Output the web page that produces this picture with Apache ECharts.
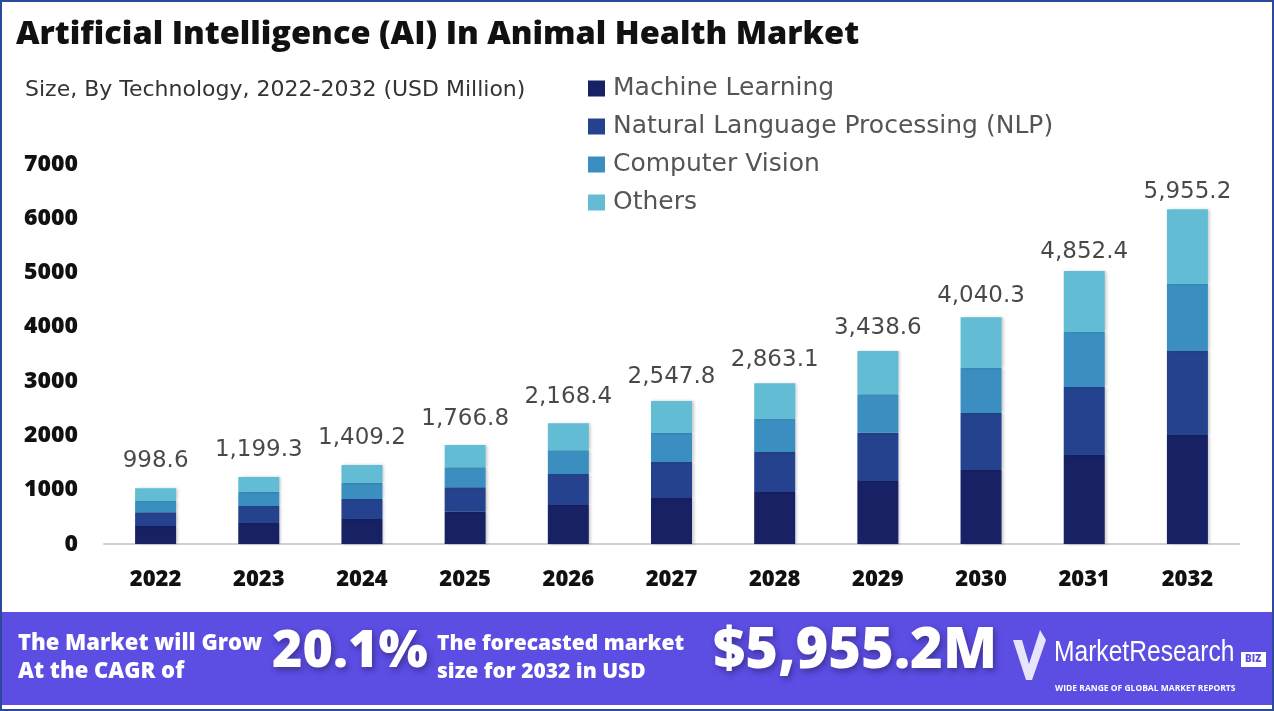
<!DOCTYPE html>
<html>
<head>
<meta charset="utf-8">
<script src="https://cdn.jsdelivr.net/npm/echarts@6/dist/echarts.min.js"></script>
<style>
html,body{margin:0;padding:0;background:#fff;}
#chart{width:1274px;height:711px;}
</style>
</head>
<body>
<div id="chart"></div>
<script>
const categories = ['2022','2023','2024','2025','2026','2027','2028','2029','2030','2031','2032'];
const machineLearning = [332, 387, 460, 595, 718, 847, 958, 1160, 1363, 1639, 2008];
const nlp = [252, 313, 369, 449, 571, 663, 737, 890, 1050, 1253, 1547];
const computerVision = [208, 258, 295, 369, 437, 535, 607, 707, 829, 1013, 1234];
const others = [234, 276, 331, 411, 497, 589, 658, 798, 934, 1123, 1376];
const totals = [998.6, 1199.3, 1409.2, 1766.8, 2168.4, 2547.8, 2863.1, 3438.6, 4040.3, 4852.4, 5955.2];
const seriesNames = ['Machine Learning', 'Natural Language Processing (NLP)', 'Computer Vision', 'Others'];
const yMin = 0, yMax = 7000, yInterval = 1000;
const cagr = '20.1%';

const colors = ['#172163', '#24428d', '#3b8fc0', '#62bdd4'];
const fmt = v => v.toLocaleString('en-US', {minimumFractionDigits: 1, maximumFractionDigits: 1});
const FONT = "'Open Sans', 'Noto Sans', sans-serif";
const WIDE = "'DejaVu Sans', 'Open Sans', sans-serif";

const chart = echarts.init(document.getElementById('chart'));
const seriesData = [machineLearning, nlp, computerVision, others];

const barSeries = seriesData.map((d, i) => ({
  name: seriesNames[i],
  type: 'bar',
  stack: 'total',
  barWidth: 41,
  data: d,
  itemStyle: {color: colors[i], shadowColor: 'rgba(0,0,0,0.22)', shadowBlur: 3, shadowOffsetX: 2},
  emphasis: {disabled: true}
}));

const W = 1274;
chart.setOption({
  animation: false,
  color: colors,
  title: [
    {text: 'Artificial Intelligence (AI) In Animal Health Market', left: 11, top: 13,
     textStyle: {fontFamily: FONT, fontSize: 32.5, fontWeight: 800, color: '#111'}},
    {text: 'Size, By Technology, 2022-2032 (USD Million)', left: 20, top: 74,
     textStyle: {fontFamily: WIDE, fontSize: 22, fontWeight: 400, color: '#333'}}
  ],
  legend: {
    data: seriesNames,
    orient: 'vertical',
    left: 588, top: 76, padding: 0,
    itemWidth: 17, itemHeight: 16, itemGap: 13,
    icon: 'rect',
    selectedMode: false,
    textStyle: {fontFamily: WIDE, fontSize: 25, color: '#555', lineHeight: 24, padding: [0,0,0,3]}
  },
  grid: {left: 104, right: 35, top: 164, bottom: 167, containLabel: false},
  xAxis: {
    type: 'category', data: categories,
    axisLine: {lineStyle: {color: '#d0d0d0', width: 2}},
    axisTick: {show: false},
    axisLabel: {margin: 25, fontFamily: FONT, fontSize: 22, fontWeight: 800, color: '#111'}
  },
  yAxis: {
    type: 'value', min: yMin, max: yMax, interval: yInterval,
    axisLine: {show: false}, axisTick: {show: false}, splitLine: {show: false},
    axisLabel: {margin: 26, fontFamily: FONT, fontSize: 23, fontWeight: 800, color: '#111', formatter: v => String(v)}
  },
  series: barSeries.concat([{
    name: 'totals', type: 'scatter', data: totals, symbolSize: 1,
    itemStyle: {color: 'rgba(0,0,0,0)'}, silent: true, z: 10,
    label: {show: true, position: 'inside', offset: [0, -29], formatter: p => fmt(p.value),
      fontFamily: WIDE, fontSize: 23, color: '#1a1a1a'}
  }]),
  graphic: [
    {type: 'rect', shape: {x: 1, y: 1, width: W - 2, height: 709}, style: {fill: 'none', stroke: '#2c4a9a', lineWidth: 2}, z: 100},
    {type: 'rect', shape: {x: 2, y: 612, width: W - 4, height: 93}, style: {fill: '#5c4de3'}, z: 50},
    {type: 'text', left: 18, top: 630, z: 60, style: {text: 'The Market will Grow\nAt the CAGR of', fill: '#fff', font: "800 22px 'Open Sans'", lineHeight: 28}},
    {type: 'text', left: 272, top: 626, z: 60, style: {text: cagr, fill: '#fff', font: "800 52px 'Open Sans'", textShadowColor: 'rgba(0,0,0,0.35)', textShadowBlur: 6, textShadowOffsetX: 2, textShadowOffsetY: 3}},
    {type: 'text', left: 437, top: 630, z: 60, style: {text: 'The forecasted market\nsize for 2032 in USD', fill: '#fff', font: "800 21px 'Open Sans'", lineHeight: 28}},
    {type: 'text', left: 713, top: 624, z: 60, style: {text: '$' + fmt(totals[totals.length - 1]) + 'M', fill: '#fff', font: "800 56px 'Open Sans'", textShadowColor: 'rgba(0,0,0,0.35)', textShadowBlur: 6, textShadowOffsetX: 2, textShadowOffsetY: 3}},
    {type: 'polygon', z: 60, shape: {points: [[1013,640],[1022,640],[1029,664],[1040,630],[1046,640],[1032,680],[1026,680]]}, style: {fill: '#fff', opacity: 0.85}},
    {type: 'text', x: 1054, y: 638, scaleX: 0.82, z: 60, style: {text: 'MarketResearch', fill: '#fff', font: "400 30px 'Liberation Sans', sans-serif"}},
    {type: 'rect', z: 60, shape: {x: 1241, y: 652, width: 25, height: 15}, style: {fill: '#fff'}},
    {type: 'text', z: 61, x: 1245, y: 654, style: {text: 'BIZ', fill: '#5c4de3', font: "800 10px 'Open Sans'"}},
    {type: 'text', x: 1055, y: 684, z: 60, style: {text: 'WIDE RANGE OF GLOBAL MARKET REPORTS', fill: '#fff', font: "700 8.5px 'Open Sans'"}}
  ]
});
</script>
</body>
</html>
